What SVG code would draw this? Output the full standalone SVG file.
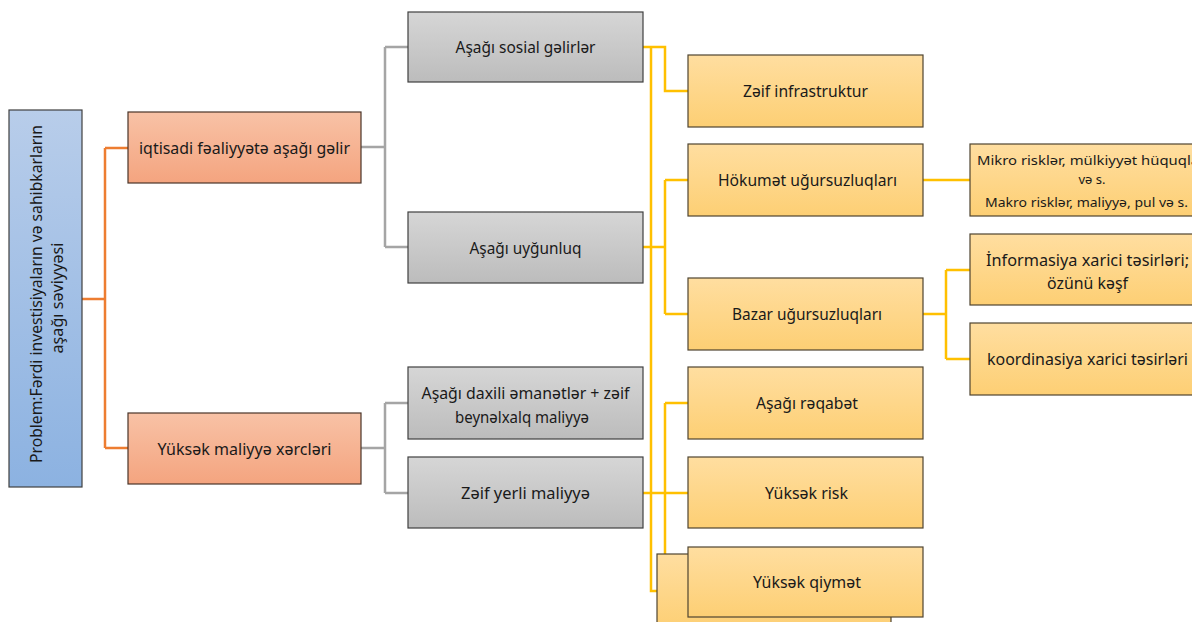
<svg xmlns="http://www.w3.org/2000/svg" width="1192" height="622" viewBox="0 0 1192 622">
  <defs>
    <linearGradient id="gBlue" x1="0" y1="0" x2="0" y2="1">
      <stop offset="0" stop-color="#b8cdea"/>
      <stop offset="1" stop-color="#8cb2e1"/>
    </linearGradient>
    <linearGradient id="gOrange" x1="0" y1="0" x2="0" y2="1">
      <stop offset="0" stop-color="#f8c2a6"/>
      <stop offset="1" stop-color="#f4a47f"/>
    </linearGradient>
    <linearGradient id="gGray" x1="0" y1="0" x2="0" y2="1">
      <stop offset="0" stop-color="#d6d6d6"/>
      <stop offset="1" stop-color="#bcbcbc"/>
    </linearGradient>
    <linearGradient id="gYellow" x1="0" y1="0" x2="0" y2="1">
      <stop offset="0" stop-color="#ffdea0"/>
      <stop offset="1" stop-color="#fdcf74"/>
    </linearGradient>
  </defs>
  <style>
    text { font-family: 'Noto Sans', 'Open Sans', 'DejaVu Sans', sans-serif; fill: #1a1a1a; }
    .t { font-size: 15.5px; text-anchor: middle; }
    .s { font-size: 13px; text-anchor: middle; }
    .blue { fill: url(#gBlue); stroke: #404040; stroke-width: 1.2; }
    .orange { fill: url(#gOrange); stroke: #4a3428; stroke-width: 1.2; }
    .gray { fill: url(#gGray); stroke: #404040; stroke-width: 1.2; }
    .yellow { fill: url(#gYellow); stroke: #4f4430; stroke-width: 1.2; }
    .co { fill: none; stroke: #ed7d31; stroke-width: 2.5; }
    .cg { fill: none; stroke: #a5a5a5; stroke-width: 2.5; }
    .cy { fill: none; stroke: #ffc000; stroke-width: 2.5; }
  </style>
  <rect width="1192" height="622" fill="#ffffff"/>

  <g id="connectors">
    <path class="co" d="M82,299 H105 M105,148 V448 M105,148 H128 M105,448 H128"/>
    <path class="cg" d="M361,147 H385 M385,47 V247 M385,47 H408 M385,247 H408"/>
    <path class="cg" d="M361,448 H385 M385,403 V493 M385,403 H408 M385,493 H408"/>
    <path class="cy" d="M643,47 H665 V91 H688"/>
    <path class="cy" d="M651,47 V591 H657"/>
    <path class="cy" d="M643,247 H665 M665,180 V314 M665,180 H688 M665,314 H688"/>
    <path class="cy" d="M643,493 H688 M665,403 V582 M665,403 H688 M665,582 H688"/>
    <path class="cy" d="M923,180 H970"/>
    <path class="cy" d="M923,314 H946 M946,270 V359 M946,270 H970 M946,359 H970"/>
  </g>

  <g id="problem">
    <rect class="blue" x="9" y="110" width="73" height="377"/>
    <text class="t" transform="translate(42,294) rotate(-90)" textLength="338" lengthAdjust="spacingAndGlyphs">Problem:Fərdi investisiyaların və sahibkarların</text>
    <text class="t" transform="translate(63,298) rotate(-90)" textLength="111" lengthAdjust="spacingAndGlyphs">aşağı səviyyəsi</text>
  </g>

  <g id="n-iqtisadi">
    <rect class="orange" x="128" y="112" width="233" height="71"/>
    <text class="t" x="244.5" y="153.5" textLength="211" lengthAdjust="spacingAndGlyphs">iqtisadi fəaliyyətə aşağı gəlir</text>
  </g>
  <g id="n-yuksek-maliyye">
    <rect class="orange" x="128" y="413" width="233" height="71"/>
    <text class="t" x="244.5" y="454.5" textLength="174" lengthAdjust="spacingAndGlyphs">Yüksək maliyyə xərcləri</text>
  </g>

  <g id="n-sosial">
    <rect class="gray" x="408" y="12" width="235" height="70"/>
    <text class="t" x="525.5" y="53" textLength="140" lengthAdjust="spacingAndGlyphs">Aşağı sosial gəlirlər</text>
  </g>
  <g id="n-uygunluq">
    <rect class="gray" x="408" y="212" width="235" height="71"/>
    <text class="t" x="525.5" y="253.5" textLength="112" lengthAdjust="spacingAndGlyphs">Aşağı uyğunluq</text>
  </g>
  <g id="n-emanetler">
    <rect class="gray" x="408" y="367" width="235" height="72"/>
    <text class="t" x="525.5" y="399" textLength="208" lengthAdjust="spacingAndGlyphs">Aşağı daxili əmanətlər + zəif</text>
    <text class="t" x="522" y="423" textLength="134" lengthAdjust="spacingAndGlyphs">beynəlxalq maliyyə</text>
  </g>
  <g id="n-yerli">
    <rect class="gray" x="408" y="457" width="235" height="71"/>
    <text class="t" x="525.5" y="498.5" textLength="129" lengthAdjust="spacingAndGlyphs">Zəif yerli maliyyə</text>
  </g>

  <g id="n-infrastruktur">
    <rect class="yellow" x="688" y="55" width="235" height="72"/>
    <text class="t" x="805.5" y="97" textLength="125" lengthAdjust="spacingAndGlyphs">Zəif infrastruktur</text>
  </g>
  <g id="n-hokumet">
    <rect class="yellow" x="688" y="144" width="235" height="72"/>
    <text class="t" x="807.5" y="186" textLength="179" lengthAdjust="spacingAndGlyphs">Hökumət uğursuzluqları</text>
  </g>
  <g id="n-bazar">
    <rect class="yellow" x="688" y="278" width="235" height="72"/>
    <text class="t" x="807" y="320" textLength="150" lengthAdjust="spacingAndGlyphs">Bazar uğursuzluqları</text>
  </g>
  <g id="n-reqabet">
    <rect class="yellow" x="688" y="367" width="235" height="72"/>
    <text class="t" x="807" y="409" textLength="102" lengthAdjust="spacingAndGlyphs">Aşağı rəqabət</text>
  </g>
  <g id="n-risk">
    <rect class="yellow" x="688" y="457" width="235" height="71"/>
    <text class="t" x="806.5" y="499" textLength="83" lengthAdjust="spacingAndGlyphs">Yüksək risk</text>
  </g>
  <g id="n-qiymet-back">
    <rect class="yellow" x="657" y="554" width="234" height="75"/>
  </g>
  <g id="n-qiymet">
    <rect class="yellow" x="688" y="547" width="235" height="70"/>
    <text class="t" x="807" y="588" textLength="108" lengthAdjust="spacingAndGlyphs">Yüksək qiymət</text>
  </g>

  <g id="n-mikro">
    <rect class="yellow" x="970" y="144" width="235" height="72"/>
    <text class="s" x="1093" y="165" textLength="232" lengthAdjust="spacingAndGlyphs">Mikro risklər, mülkiyyət hüquqları</text>
    <text class="s" x="1092" y="184">və s.</text>
    <text class="s" x="1086.5" y="207" textLength="203" lengthAdjust="spacingAndGlyphs">Makro risklər, maliyyə, pul və s.</text>
  </g>
  <g id="n-informasiya">
    <rect class="yellow" x="970" y="234" width="235" height="71"/>
    <text class="t" x="1087.5" y="266" textLength="203" lengthAdjust="spacingAndGlyphs">İnformasiya xarici təsirləri;</text>
    <text class="t" x="1087.5" y="289" textLength="81" lengthAdjust="spacingAndGlyphs">özünü kəşf</text>
  </g>
  <g id="n-koordinasiya">
    <rect class="yellow" x="970" y="323" width="235" height="72"/>
    <text class="t" x="1087.5" y="365" textLength="201" lengthAdjust="spacingAndGlyphs">koordinasiya xarici təsirləri</text>
  </g>
</svg>
